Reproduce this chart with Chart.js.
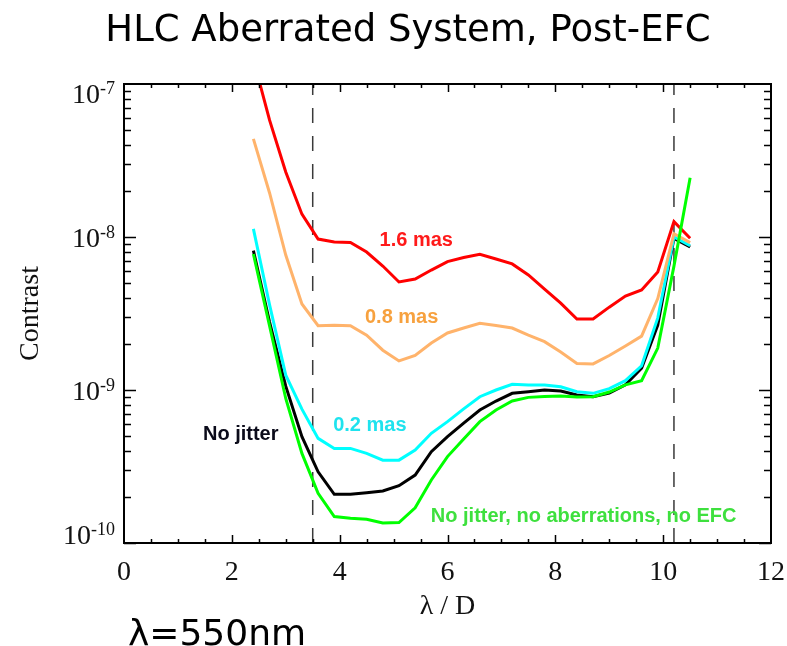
<!DOCTYPE html>
<html>
<head>
<meta charset="utf-8">
<script src="https://cdn.jsdelivr.net/npm/chart.js@4.4.1/dist/chart.umd.min.js"></script>
<style>
  html, body { margin: 0; padding: 0; background: #ffffff; }
  #wrap { width: 787px; height: 646px; position: relative; }
</style>
</head>
<body>
<div id="wrap"><canvas id="c" width="787" height="646"></canvas></div>
<script>
// Separation in lambda/D where contrast was evaluated
const lamD = [2.4, 2.7, 3.0, 3.3, 3.6, 3.9, 4.2, 4.5, 4.8, 5.1, 5.4, 5.7, 6.0, 6.3,
              6.6, 6.9, 7.2, 7.5, 7.8, 8.1, 8.4, 8.7, 9.0, 9.3, 9.6, 9.9, 10.2, 10.5];

// Post-EFC contrast for each pointing-jitter level
const jitter16 = [1.45e-7, 5.8e-8, 2.66e-8, 1.41e-8, 9.7e-9, 9.27e-9, 9.2e-9, 7.97e-9, 6.46e-9, 5.08e-9,
                  5.31e-9, 6.08e-9, 6.91e-9, 7.34e-9, 7.70e-9, 7.18e-9, 6.67e-9, 5.65e-9, 4.57e-9, 3.70e-9,
                  2.91e-9, 2.91e-9, 3.48e-9, 4.11e-9, 4.51e-9, 5.90e-9, 1.26e-8, 9.82e-9];
const jitter08 = [4.38e-8, 1.94e-8, 7.62e-9, 3.65e-9, 2.63e-9, 2.65e-9, 2.63e-9, 2.28e-9, 1.82e-9, 1.55e-9,
                  1.68e-9, 2.03e-9, 2.36e-9, 2.54e-9, 2.73e-9, 2.64e-9, 2.54e-9, 2.28e-9, 2.07e-9, 1.77e-9,
                  1.49e-9, 1.48e-9, 1.68e-9, 1.94e-9, 2.25e-9, 3.96e-9, 1.05e-8, 9.18e-9];
const jitter02 = [1.13e-8, 3.60e-9, 1.25e-9, 7.5e-10, 4.83e-10, 4.15e-10, 4.15e-10, 3.85e-10, 3.48e-10, 3.48e-10,
                  4.05e-10, 5.21e-10, 6.21e-10, 7.52e-10, 9.04e-10, 1.0e-9, 1.09e-9, 1.08e-9, 1.08e-9, 1.05e-9,
                  9.75e-10, 9.51e-10, 1.02e-9, 1.15e-9, 1.44e-9, 2.96e-9, 1.0e-8, 8.77e-9];
const noJitter = [8.15e-9, 2.78e-9, 1.06e-9, 4.95e-10, 2.92e-10, 2.08e-10, 2.08e-10, 2.13e-10, 2.19e-10, 2.37e-10,
                  2.78e-10, 3.95e-10, 4.95e-10, 6.08e-10, 7.40e-10, 8.47e-10, 9.51e-10, 9.75e-10, 1.0e-9, 9.85e-10,
                  9.27e-10, 9.04e-10, 9.55e-10, 1.08e-9, 1.39e-9, 2.66e-9, 9.8e-9, 8.6e-9];
const idealNoEfc = [7.74e-9, 2.62e-9, 8.8e-10, 3.85e-10, 2.11e-10, 1.49e-10, 1.45e-10, 1.43e-10, 1.35e-10, 1.36e-10,
                    1.70e-10, 2.58e-10, 3.67e-10, 4.79e-10, 6.21e-10, 7.40e-10, 8.47e-10, 8.95e-10, 9.08e-10, 9.15e-10,
                    9.0e-10, 9.04e-10, 9.70e-10, 1.08e-9, 1.15e-9, 1.88e-9, 6.45e-9, 2.44e-8];

// Dark-hole edges (lambda/D)
const holeEdges = [3.5, 10.2];

// Axis ranges and tick values
const xRange = [0, 12];
const xTickStep = 2;
const yRange = [1e-10, 1e-7];
const yDecades = [-7, -8, -9, -10];

// Curve annotations
const curveLabels = ['1.6 mas', '0.8 mas', '0.2 mas', 'No jitter', 'No jitter, no aberrations, no EFC'];
const labelX = [5.42, 5.15, 4.56, 2.165, 8.525];
const labelY = [9.5e-9, 3.0e-9, 5.9e-10, 5.1e-10, 1.5e-10];
const labelColors = ['#ff1a1a', '#f7a13e', '#1fe3ee', '#0b0b1a', '#3ee03e'];

const chartTitle = 'HLC Aberrated System, Post-EFC';
const wavelengthNote = 'λ=550nm';

const pts = (ys) => lamD.map((x, i) => ({ x: x, y: ys[i] }));
const vline = (x) => [{ x: x, y: yRange[0] }, { x: x, y: yRange[1] }];

const serif = '"Liberation Serif", "Times New Roman", serif';

const curve = (data, color, order) => ({
  data: pts(data), borderColor: color, borderWidth: 3, pointRadius: 0,
  tension: 0, fill: false, order: order
});

// Frame, inward tick marks, power-of-ten labels and free text
const decorations = {
  id: 'decorations',
  afterDraw(chart) {
    const { ctx, chartArea: a, scales } = chart;
    const xs = scales.x, ys = scales.y;
    ctx.save();
    ctx.strokeStyle = '#000';
    ctx.lineWidth = 2;
    ctx.strokeRect(a.left, a.top, a.right - a.left, a.bottom - a.top);

    ctx.lineWidth = 1.5;
    ctx.beginPath();
    for (let v = xRange[0] + 0.5; v < xRange[1]; v += 0.5) {
      const px = Math.round(xs.getPixelForValue(v)) + 0.5;
      const len = (Math.abs(v / xTickStep - Math.round(v / xTickStep)) < 1e-6) ? 8 : 4;
      ctx.moveTo(px, a.bottom); ctx.lineTo(px, a.bottom - len);
      ctx.moveTo(px, a.top); ctx.lineTo(px, a.top + len);
    }
    for (let d = -10; d < -7; d++) {
      for (let m = 1; m <= 9; m++) {
        const py = Math.round(ys.getPixelForValue(m * Math.pow(10, d))) + 0.5;
        const len = m === 1 ? 12 : 7;
        ctx.moveTo(a.left, py); ctx.lineTo(a.left + len, py);
        ctx.moveTo(a.right, py); ctx.lineTo(a.right - len, py);
      }
    }
    ctx.stroke();

    // y tick labels: 10 with a raised exponent
    ctx.fillStyle = '#111';
    ctx.textAlign = 'left';
    ctx.textBaseline = 'alphabetic';
    yDecades.forEach((e) => {
      let cy = ys.getPixelForValue(Math.pow(10, e));
      cy = Math.min(Math.max(cy, a.top + 9), a.bottom - 9);
      const exp = String(e);
      ctx.font = '18px ' + serif;
      const ew = ctx.measureText(exp).width;
      ctx.font = '28px ' + serif;
      const bw = ctx.measureText('10').width;
      const right = a.left - 9;
      ctx.fillText('10', right - ew - bw, cy + 9.5);
      ctx.font = '18px ' + serif;
      ctx.fillText(exp, right - ew, cy + 0.5);
    });

    // curve annotations
    ctx.font = 'bold 20px "Liberation Sans", Arial, sans-serif';
    ctx.textAlign = 'center';
    ctx.textBaseline = 'middle';
    curveLabels.forEach((t, i) => {
      ctx.fillStyle = labelColors[i];
      ctx.fillText(t, xs.getPixelForValue(labelX[i]), ys.getPixelForValue(labelY[i]));
    });

    // title and wavelength note
    ctx.fillStyle = '#000';
    ctx.font = '37px "DejaVu Sans", sans-serif';
    ctx.textAlign = 'center';
    ctx.textBaseline = 'middle';
    ctx.fillText(chartTitle, 408, 31);
    ctx.font = '36px "DejaVu Sans", sans-serif';
    ctx.textAlign = 'left';
    ctx.textBaseline = 'alphabetic';
    ctx.fillText(wavelengthNote, 128, 645);
    ctx.restore();
  }
};

new Chart(document.getElementById('c'), {
  type: 'line',
  data: {
    datasets: [
      curve(idealNoEfc, '#00ff00', 0),
      curve(jitter16, '#ff0000', 1),
      curve(jitter08, '#ffb36b', 2),
      curve(jitter02, '#00ffff', 3),
      curve(noJitter, '#000000', 4),
      ...holeEdges.map((x) => ({
        data: vline(x), borderColor: '#3a3a3a', borderWidth: 1.5, borderDash: [15, 13],
        pointRadius: 0, fill: false, order: 10
      }))
    ]
  },
  options: {
    responsive: false,
    animation: false,
    devicePixelRatio: 1,
    layout: { padding: { left: 12, right: 16, top: 84, bottom: 0 } },
    plugins: { legend: { display: false }, tooltip: { enabled: false }, title: { display: false } },
    scales: {
      x: {
        type: 'linear', min: xRange[0], max: xRange[1],
        grid: { display: false, drawTicks: false },
        border: { display: false },
        ticks: { stepSize: xTickStep, color: '#111', padding: 13, font: { family: serif, size: 28 } },
        title: { display: true, text: 'λ / D', color: '#111', font: { family: serif, size: 28 },
                 padding: { top: 0, bottom: 23 } },
        afterFit: (s) => { s.height = 103; s.paddingLeft = 0; s.paddingRight = 0; }
      },
      y: {
        type: 'logarithmic', min: yRange[0], max: yRange[1],
        grid: { display: false, drawTicks: false },
        border: { display: false },
        ticks: { display: false },
        title: { display: true, text: 'Contrast', color: '#111', font: { family: serif, size: 28 },
                 padding: { top: 2, bottom: 0 } },
        afterFit: (s) => { s.width = 112; s.paddingTop = 0; s.paddingBottom = 0; }
      }
    }
  },
  plugins: [decorations]
});
</script>
</body>
</html>
